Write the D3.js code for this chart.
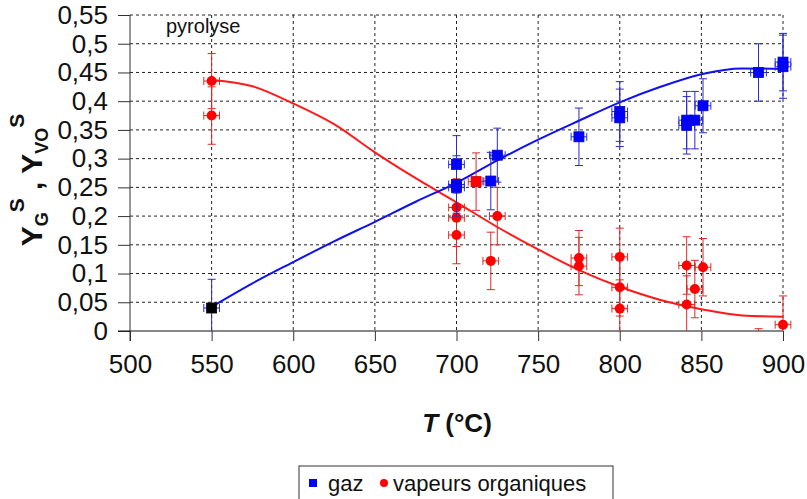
<!DOCTYPE html>
<html><head><meta charset="utf-8">
<script src="https://cdn.jsdelivr.net/npm/d3@7"></script>
<style>
body{margin:0;background:#fff;}
svg{display:block;font-family:"Liberation Sans",Arial,sans-serif;}
</style></head>
<body><svg id="c" width="807" height="499"></svg>
<script>
// ---- data ----
const xTicks = [500, 550, 600, 650, 700, 750, 800, 850, 900];
const yTicks = [0, 0.05, 0.1, 0.15, 0.2, 0.25, 0.3, 0.35, 0.4, 0.45, 0.5, 0.55];
const yTickLabels = ["0","0,05","0,1","0,15","0,2","0,25","0,3","0,35","0,4","0,45","0,5","0,55"];

const gazT   = [550, 700, 700, 700, 721, 725, 775, 800, 800, 841, 841, 846, 851, 885, 900, 900];
const gazY   = [0.04, 0.29, 0.255, 0.25, 0.261, 0.306, 0.338, 0.382, 0.371, 0.367, 0.358, 0.367, 0.392, 0.45, 0.46, 0.468];
const gazErr = [0.05, 0.05, 0.05, 0.05, 0.05, 0.047, 0.05, 0.052, 0.05, 0.05, 0.05, 0.05, 0.047, 0.05, 0.055, 0.05];

const vapT   = [550, 550, 700, 700, 700, 712, 721, 725, 775, 775, 800, 800, 800, 841, 841, 846, 851, 885, 900];
const vapY   = [0.435, 0.375, 0.215, 0.197, 0.167, 0.26, 0.122, 0.2, 0.127, 0.113, 0.129, 0.076, 0.039, 0.114, 0.046, 0.073, 0.111, -0.046, 0.011];
const vapErr = [0.048, 0.05, 0.05, 0.05, 0.05, 0.05, 0.05, 0.05, 0.048, 0.05, 0.05, 0.05, 0.05, 0.05, 0.05, 0.05, 0.05, 0.05, 0.05];
const vapShape = ["c","c","c","c","c","s","c","c","c","c","c","c","c","c","c","c","c","c","c"];

const tErr = 3; // horizontal error (°C)

const fitT   = [550, 575, 600, 625, 650, 675, 700, 725, 750, 775, 800, 825, 850, 875, 900];
const gazFit = [0.042, 0.083, 0.12, 0.156, 0.19, 0.225, 0.258, 0.297, 0.333, 0.366, 0.398, 0.425, 0.447, 0.457, 0.456];
const vapFit = [0.437, 0.426, 0.396, 0.36, 0.311, 0.266, 0.224, 0.181, 0.142, 0.106, 0.077, 0.054, 0.038, 0.027, 0.025];

// ---- chart ----
const svg = d3.select("#c");
const x = d3.scaleLinear().domain([500, 900]).range([130, 783]);
const y = d3.scaleLinear().domain([0, 0.55]).range([331, 15]);

svg.append("defs").append("clipPath").attr("id","clip")
  .append("rect").attr("x", 100).attr("y", 0).attr("width", 707).attr("height", y(0));

// grid
const grid = svg.append("g");
grid.selectAll("line.h").data(yTicks.filter(d => d > 0)).join("line")
  .attr("x1", x(500)).attr("x2", x(900)).attr("y1", d => y(d)).attr("y2", d => y(d))
  .attr("stroke", "#222").attr("stroke-width", 1).attr("stroke-dasharray", "3,3");
grid.selectAll("line.v").data(xTicks.filter(d => d > 500)).join("line")
  .attr("x1", d => x(d)).attr("x2", d => x(d)).attr("y1", y(0.55)).attr("y2", y(0))
  .attr("stroke", "#222").attr("stroke-width", 1).attr("stroke-dasharray", "3,3");

// axes
const yAxis = d3.axisLeft(y).tickValues(yTicks).tickSize(12).tickPadding(10)
  .tickFormat((d, i) => yTickLabels[i]);
const gy = svg.append("g").attr("transform", `translate(${x(500)},0)`).call(yAxis);
gy.select(".domain").attr("stroke", "#333").attr("d", `M0,${y(0.55)}V${y(0) + 10}`);
gy.selectAll(".tick line").attr("stroke", "#333");
gy.selectAll("text").attr("font-size", 26).attr("fill", "#111")
  .attr("font-family", "Liberation Sans, Arial, sans-serif");

const xAxis = d3.axisBottom(x).tickValues(xTicks).tickSize(10).tickPadding(14).tickFormat(d3.format("d"));
const gx = svg.append("g").attr("transform", `translate(0,${y(0)})`).call(xAxis);
gx.select(".domain").attr("stroke", "#111").attr("d", `M${x(500) - 12},0H${x(900)}`);
gx.selectAll(".tick line").attr("stroke", "#333");
gx.selectAll("text").attr("font-size", 26).attr("fill", "#111")
  .attr("font-family", "Liberation Sans, Arial, sans-serif");

// fit curves
const line = d3.line().x((d, i) => x(fitT[i])).y(d => y(d)).curve(d3.curveMonotoneX);
svg.append("path").attr("d", line(vapFit)).attr("fill", "none").attr("stroke", "#ff1a1a").attr("stroke-width", 2);
svg.append("path").attr("d", line(gazFit)).attr("fill", "none").attr("stroke", "#1010f0").attr("stroke-width", 2);

// error bars + markers
function drawSeries(T, Y, E, ecolor, shapeFn, fillFn) {
  const g = svg.append("g").attr("clip-path", "url(#clip)");
  const pts = T.map((t, i) => ({t, v: Y[i], e: E[i], i}));
  const eb = g.append("g").attr("stroke", ecolor).attr("stroke-width", 1).attr("fill", "none");
  pts.forEach(p => {
    const cx = x(p.t), cy = y(p.v), y1 = y(p.v + p.e), y2 = y(p.v - p.e);
    eb.append("line").attr("x1", cx).attr("x2", cx).attr("y1", y1).attr("y2", y2);
    eb.append("line").attr("x1", cx - 4).attr("x2", cx + 4).attr("y1", y1).attr("y2", y1);
    eb.append("line").attr("x1", cx - 4).attr("x2", cx + 4).attr("y1", y2).attr("y2", y2);
    const xl = x(p.t - tErr * 1.6), xr = x(p.t + tErr * 1.6);
    eb.append("line").attr("x1", xl).attr("x2", xr).attr("y1", cy).attr("y2", cy);
    eb.append("line").attr("x1", xl).attr("x2", xl).attr("y1", cy - 4).attr("y2", cy + 4);
    eb.append("line").attr("x1", xr).attr("x2", xr).attr("y1", cy - 4).attr("y2", cy + 4);
  });
  pts.forEach(p => {
    const cx = x(p.t), cy = y(p.v);
    if (shapeFn(p.i) === "s") {
      g.append("rect").attr("x", cx - 5).attr("y", cy - 5).attr("width", 10).attr("height", 10)
        .attr("fill", fillFn(p.i)).attr("stroke", d3.color(fillFn(p.i)).darker(0.6)).attr("stroke-width", 0.8);
    } else {
      g.append("circle").attr("cx", cx).attr("cy", cy).attr("r", 5).attr("fill", fillFn(p.i));
    }
  });
}
drawSeries(vapT, vapY, vapErr, "#e02828", i => vapShape[i], i => "#ff0000");
drawSeries(gazT, gazY, gazErr, "#2a2ad0", i => "s", i => (gazT[i] === 550 ? "#000000" : "#0000ff"));

// annotation
svg.append("text").attr("x", 166).attr("y", 33).attr("font-size", 20).attr("fill", "#111").text("pyrolyse");

// x title
const xt = svg.append("text").attr("x", 457).attr("y", 432).attr("text-anchor", "middle")
  .attr("font-size", 26).attr("font-weight", "bold").attr("fill", "#111");
xt.append("tspan").attr("font-style", "italic").text("T");
xt.append("tspan").text(" (°C)");

// y title
const yt = svg.append("text").attr("transform", "translate(42,180) rotate(-90)")
  .attr("text-anchor", "middle").attr("font-size", 30).attr("font-weight", "bold").attr("fill", "#111");
yt.append("tspan").text("Y");
yt.append("tspan").attr("font-size", 18).attr("dy", 6).text("G");
yt.append("tspan").attr("font-size", 21).attr("dy", -24).text("S");
yt.append("tspan").attr("dy", 18).text(" ,  ");
yt.append("tspan").text("Y");
yt.append("tspan").attr("font-size", 18).attr("dy", 6).text("VO");
yt.append("tspan").attr("font-size", 21).attr("dy", -24).text("S");

// legend
const lg = svg.append("g");
lg.append("rect").attr("x", 299).attr("y", 466).attr("width", 314).attr("height", 40)
  .attr("fill", "#fff").attr("stroke", "#333").attr("stroke-width", 1);
lg.append("rect").attr("x", 309).attr("y", 479).attr("width", 8).attr("height", 8).attr("fill", "#0000ff");
lg.append("text").attr("x", 328).attr("y", 491).attr("font-size", 22).attr("fill", "#111").text("gaz");
lg.append("circle").attr("cx", 384).attr("cy", 483).attr("r", 4).attr("fill", "#ff0000");
lg.append("text").attr("x", 393).attr("y", 491).attr("font-size", 22).attr("fill", "#111").text("vapeurs organiques");
</script></body></html>
